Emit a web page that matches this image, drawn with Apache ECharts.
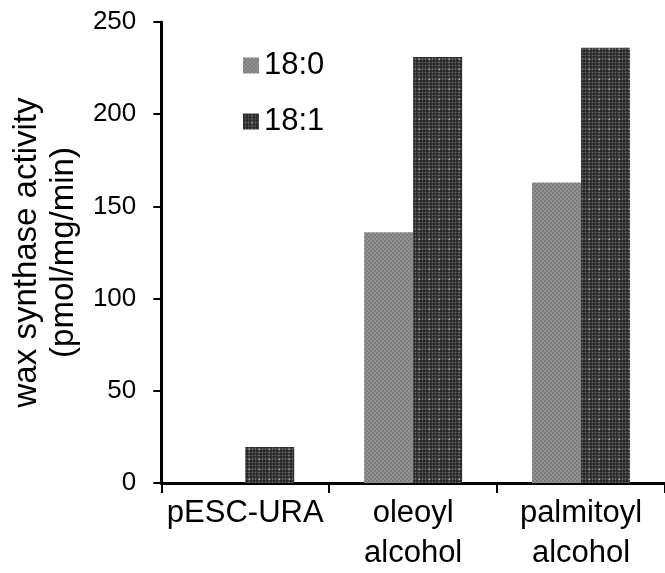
<!DOCTYPE html>
<html>
<head>
<meta charset="utf-8">
<script src="https://cdn.jsdelivr.net/npm/echarts@6/dist/echarts.min.js"></script>
<style>
html,body{margin:0;padding:0;background:#fff;}
#chart{width:665px;height:573px;}
</style>
</head>
<body>
<div id="chart"></div>
<script>
var categories = ['pESC-URA', 'oleoyl\nalcohol', 'palmitoyl\nalcohol'];
var seriesNames = ['18:0', '18:1'];
var values180 = [0, 136, 163];
var values181 = [19.5, 231, 236];
var yTicks = { min: 0, max: 250, interval: 50 };
var yTitle = 'wax synthase activity\n(pmol/mg/min)';

function checkerPattern() {
  var c = document.createElement('canvas');
  c.width = 4; c.height = 4;
  var g = c.getContext('2d');
  g.fillStyle = '#939393'; g.fillRect(0, 0, 4, 4);
  g.fillStyle = '#7d7d7d'; g.fillRect(0, 0, 2, 2); g.fillRect(2, 2, 2, 2);
  return c;
}
function plaidPattern() {
  var c = document.createElement('canvas');
  c.width = 10; c.height = 10;
  var g = c.getContext('2d');
  g.fillStyle = '#666666'; g.fillRect(0, 0, 10, 10);
  g.fillStyle = 'rgba(20,20,20,0.5)';
  [0, 3, 6].forEach(function (p) { g.fillRect(p, 0, 2, 10); g.fillRect(0, p, 10, 2); });
  g.fillStyle = '#bdbdbd'; g.fillRect(9, 9, 1, 1);
  return c;
}

var chart = echarts.init(document.getElementById('chart'), null, { renderer: 'canvas' });
var font = "'Liberation Sans', Arial, sans-serif";
chart.setOption({
  animation: false,
  backgroundColor: '#ffffff',
  textStyle: { fontFamily: font, color: '#000' },
  grid: { left: 151, top: 22, width: 522, height: 463, containLabel: false },
  legend: {
    orient: 'vertical',
    left: 238,
    top: 45,
    itemWidth: 16,
    itemHeight: 16,
    itemGap: 25,
    icon: 'rect',
    textStyle: { fontSize: 31, lineHeight: 30, color: '#000', fontFamily: font },
    data: seriesNames
  },
  xAxis: {
    type: 'category',
    data: categories,
    axisLine: { lineStyle: { color: '#000', width: 3 } },
    axisTick: { show: true, length: 10, lineStyle: { color: '#000', width: 2 } },
    axisLabel: { fontSize: 31, lineHeight: 40, color: '#000', margin: 10, fontFamily: font, interval: 0 }
  },
  yAxis: {
    type: 'value',
    min: yTicks.min, max: yTicks.max, interval: yTicks.interval,
    name: yTitle,
    nameLocation: 'middle',
    nameRotate: 90,
    nameGap: 77,
    nameTextStyle: { fontSize: 33, lineHeight: 37, color: '#000', fontFamily: font },
    axisLine: { show: true, lineStyle: { color: '#000', width: 3 } },
    axisTick: { show: true, length: 8, lineStyle: { color: '#000', width: 2 } },
    axisLabel: { fontSize: 26, color: '#000', margin: 25, fontFamily: font },
    splitLine: { show: false }
  },
  series: [
    {
      name: seriesNames[0], type: 'bar', data: values180, barWidth: 49, barGap: '0%',
      itemStyle: { color: { image: checkerPattern(), repeat: 'repeat' } }
    },
    {
      name: seriesNames[1], type: 'bar', data: values181, barWidth: 49, barGap: '0%',
      itemStyle: { color: { image: plaidPattern(), repeat: 'repeat' } }
    }
  ]
});
</script>
</body>
</html>
